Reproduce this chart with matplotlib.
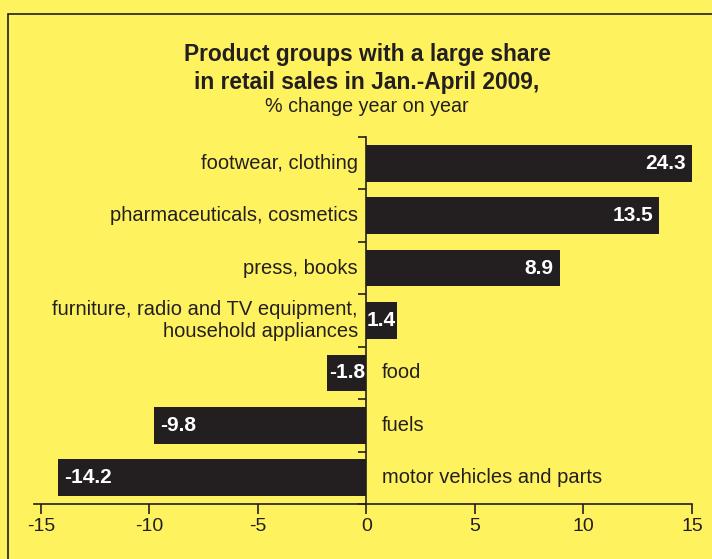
import matplotlib
matplotlib.use("Agg")
import matplotlib.pyplot as plt
from matplotlib.patches import Rectangle

plt.rcParams['font.family'] = ['Liberation Sans', 'DejaVu Sans']

categories = [
    "footwear, clothing",
    "pharmaceuticals, cosmetics",
    "press, books",
    "furniture, radio and TV equipment,\nhousehold appliances",
    "food",
    "fuels",
    "motor vehicles and parts",
]
values = [24.3, 13.5, 8.9, 1.4, -1.8, -9.8, -14.2]
xticks = [-15, -10, -5, 0, 5, 10, 15]
value_labels = ["24.3", "13.5", "8.9", "1.4", "-1.8", "-9.8", "-14.2"]

BG = "#FFF25F"
INK = "#231F20"

W, H = 712, 559
fig = plt.figure(figsize=(W / 100, H / 100), dpi=100, facecolor=BG)

# outer frame (top and left edges visible)
fig.patches.append(Rectangle((8 / W, -0.1), 1.2, (H - 14) / H + 0.1,
                             transform=fig.transFigure, fill=False,
                             edgecolor=INK, linewidth=1.2))

fig.text(367 / W, 1 - 55 / H, "Product groups with a large share",
         ha="center", va="center", fontsize=16.4, fontweight="bold", color=INK)
fig.text(367 / W, 1 - 83 / H, "in retail sales in Jan.-April 2009,",
         ha="center", va="center", fontsize=16.4, fontweight="bold", color=INK)
fig.text(367 / W, 1 - 106 / H, "% change year on year",
         ha="center", va="center", fontsize=14.2, color=INK)

left, right = 34 / W, 692 / W
bottom, top = 1 - 504 / H, 1 - 137 / H
ax = fig.add_axes([left, bottom, right - left, top - bottom])
ax.set_facecolor(BG)

n = len(categories)
ypos = list(range(n))[::-1]
ax.barh(ypos, values, height=0.7, color=INK, edgecolor="none", zorder=2)
ax.set_xlim(-15.32, 15.0)
ax.set_ylim(-0.5, n - 0.5)

# zero line with tick marks at category boundaries
for side in ("top", "right"):
    ax.spines[side].set_visible(False)
ax.spines["left"].set_position(("data", 0))
ax.spines["left"].set_color(INK)
ax.spines["left"].set_linewidth(1.2)
ax.spines["left"].set_zorder(3)
ax.set_yticks([i - 0.5 for i in range(n + 1)])
ax.set_yticklabels([])
ax.tick_params(axis="y", direction="out", length=6, width=1.2, color=INK)

ax.spines["bottom"].set_color(INK)
ax.spines["bottom"].set_linewidth(1.2)
ax.set_xticks(xticks)
ax.set_xticklabels([str(t) for t in xticks])
ax.tick_params(axis="x", direction="out", length=7, width=1.2, color=INK,
               labelsize=14, labelcolor=INK, pad=3)

xmax = ax.get_xlim()[1]
for y, v, lab, cat in zip(ypos, values, value_labels, categories):
    end = min(v, xmax)
    if abs(v) < 3:
        # short bars: value centred in the bar
        ax.text(end / 2, y, lab, ha="center", va="center", color="white",
                fontsize=15, fontweight="bold", zorder=4)
    elif v >= 0:
        ax.text(end - 0.28, y, lab, ha="right", va="center", color="white",
                fontsize=15, fontweight="bold", zorder=4)
    else:
        ax.text(v + 0.28, y, lab, ha="left", va="center", color="white",
                fontsize=15, fontweight="bold", zorder=4)
    if v >= 0:
        ax.text(-0.4, y, cat, ha="right", va="center", color=INK,
                fontsize=14.5, linespacing=1.2)
    else:
        ax.text(0.7, y, cat, ha="left", va="center", color=INK, fontsize=14.5)

fig.savefig("out.png", dpi=100, facecolor=BG)
